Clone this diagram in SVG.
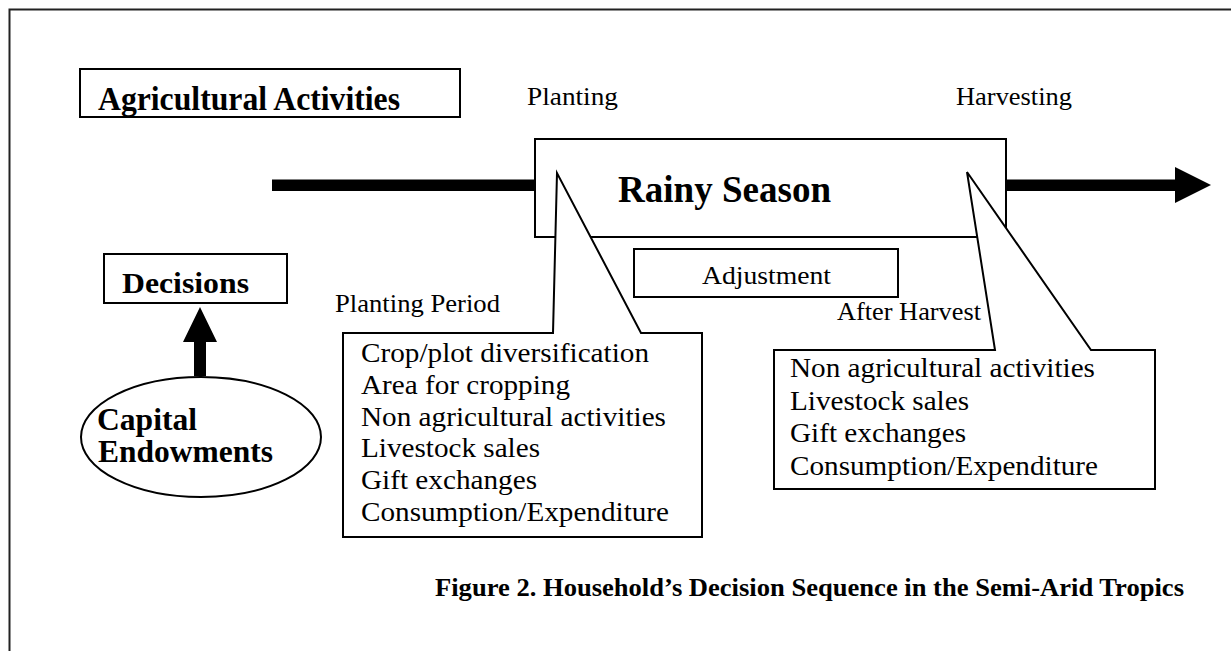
<svg xmlns="http://www.w3.org/2000/svg" width="1231" height="651" viewBox="0 0 1231 651">
<style>
.bx{fill:#fff;stroke:#000;stroke-width:2}
.t{font-family:"Liberation Serif","Times New Roman",serif;fill:#000}
.b{font-weight:bold}
</style>
<rect x="0" y="0" width="1231" height="651" fill="#fff"/>
<path d="M1231,9.5 H9.5 V651" fill="none" stroke="#222" stroke-width="2"/>
<g id="connectors">
<rect x="272" y="179.5" width="270" height="11.5" fill="#000"/>
<rect x="1000" y="179.5" width="176" height="11.5" fill="#000"/>
<polygon points="1175,167 1211,185 1175,203" fill="#000"/>
<polygon points="200,307 217,342 206,342 206,376 194,376 194,342 183,342" fill="#000"/>
</g>
<g id="agricultural-activities">
<rect class="bx" x="80" y="69" width="380" height="48"/>
<text class="t b" x="98" y="110" font-size="33" textLength="302" lengthAdjust="spacingAndGlyphs">Agricultural Activities</text>
</g>
<g id="planting-label"><text class="t" x="527" y="105" font-size="26" textLength="91" lengthAdjust="spacingAndGlyphs">Planting</text></g>
<g id="harvesting-label"><text class="t" x="956" y="105" font-size="26" textLength="116" lengthAdjust="spacingAndGlyphs">Harvesting</text></g>
<g id="rainy-season">
<rect class="bx" x="535" y="139" width="471" height="98"/>
<text class="t b" x="618" y="202" font-size="37" textLength="213" lengthAdjust="spacingAndGlyphs">Rainy Season</text>
</g>
<g id="adjustment">
<rect class="bx" x="634" y="249" width="264" height="48" stroke-width="1.6"/>
<text class="t" x="702" y="284" font-size="26" textLength="129" lengthAdjust="spacingAndGlyphs">Adjustment</text>
</g>
<g id="decisions">
<rect class="bx" x="104" y="254" width="183" height="49"/>
<text class="t b" x="122" y="293" font-size="30" textLength="127" lengthAdjust="spacingAndGlyphs">Decisions</text>
</g>
<g id="capital-endowments">
<ellipse class="bx" cx="201" cy="437" rx="120" ry="60" stroke-width="1.6"/>
<text class="t b" x="97" y="430" font-size="31" textLength="100" lengthAdjust="spacingAndGlyphs">Capital</text>
<text class="t b" x="98" y="462" font-size="31" textLength="175" lengthAdjust="spacingAndGlyphs">Endowments</text>
</g>
<g id="planting-period-label"><text class="t" x="335" y="312" font-size="26" textLength="165" lengthAdjust="spacingAndGlyphs">Planting Period</text></g>
<g id="after-harvest-label"><text class="t" x="837" y="320" font-size="26" textLength="144" lengthAdjust="spacingAndGlyphs">After Harvest</text></g>
<g id="planting-period-callout">
<path class="bx" d="M343,333 H553 L557,173 L641,333 H702 V537 H343 Z" stroke-width="1.8"/>
<g class="t" font-size="28">
<text x="361" y="362" textLength="288" lengthAdjust="spacingAndGlyphs">Crop/plot diversification</text>
<text x="361" y="394" textLength="209" lengthAdjust="spacingAndGlyphs">Area for cropping</text>
<text x="361" y="426" textLength="305" lengthAdjust="spacingAndGlyphs">Non agricultural activities</text>
<text x="361" y="457" textLength="179" lengthAdjust="spacingAndGlyphs">Livestock sales</text>
<text x="361" y="489" textLength="176" lengthAdjust="spacingAndGlyphs">Gift exchanges</text>
<text x="361" y="521" textLength="308" lengthAdjust="spacingAndGlyphs">Consumption/Expenditure</text>
</g>
</g>
<g id="after-harvest-callout">
<path class="bx" d="M774,350 H995 L967,172 L1091,350 H1155 V489 H774 Z" stroke-width="1.8"/>
<g class="t" font-size="28">
<text x="790" y="377" textLength="305" lengthAdjust="spacingAndGlyphs">Non agricultural activities</text>
<text x="790" y="410" textLength="179" lengthAdjust="spacingAndGlyphs">Livestock sales</text>
<text x="790" y="442" textLength="176" lengthAdjust="spacingAndGlyphs">Gift exchanges</text>
<text x="790" y="475" textLength="308" lengthAdjust="spacingAndGlyphs">Consumption/Expenditure</text>
</g>
</g>
<g id="caption"><text class="t b" x="435" y="596" font-size="25" textLength="749" lengthAdjust="spacingAndGlyphs">Figure 2. Household’s Decision Sequence in the Semi-Arid Tropics</text></g>
</svg>
